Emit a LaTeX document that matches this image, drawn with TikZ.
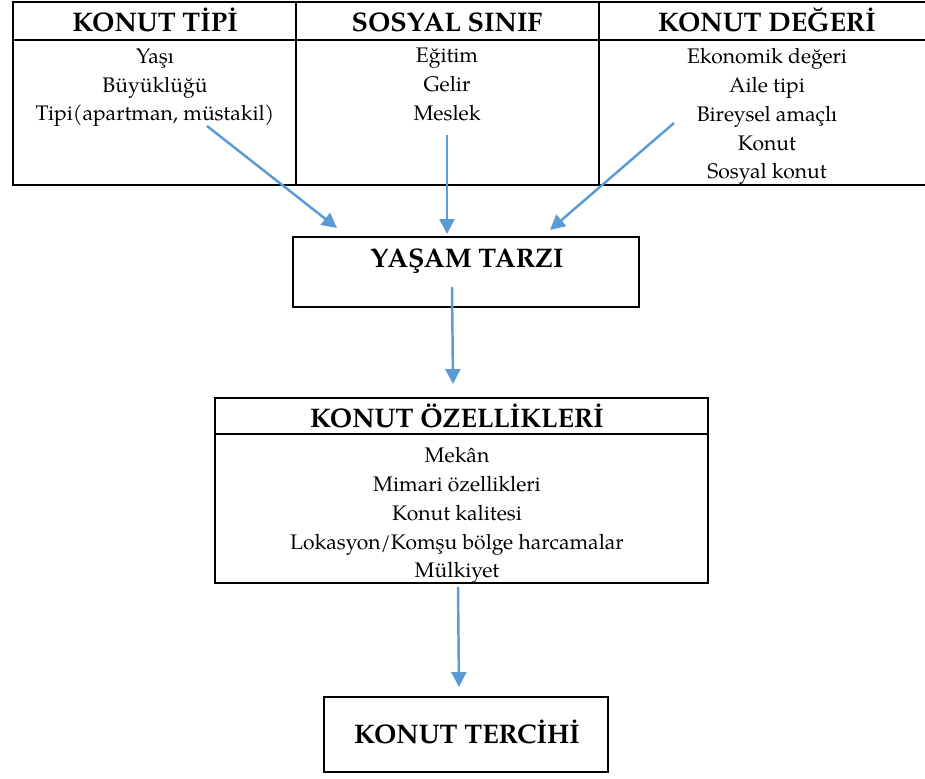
\documentclass[tikz,border=0pt]{standalone}
\usepackage{fontspec}
\setmainfont{texgyrepagella}[Extension=.otf, UprightFont=*-regular, BoldFont=*-bold, ItalicFont=*-italic, BoldItalicFont=*-bolditalic]
\usepackage{tikz}
\usetikzlibrary{arrows.meta}
\definecolor{flowblue}{RGB}{91,155,213}

\begin{document}
\begin{tikzpicture}[x=0.02cm, y=-0.02cm,
    frame/.style={draw, line width=1.4pt},
    head/.style={font=\fontsize{15.3}{17}\selectfont\bfseries, inner sep=0pt, anchor=base},
    item/.style={font=\fontsize{12}{16.4}\selectfont, align=center, inner sep=0pt, anchor=north},
    flow/.style={draw=flowblue, line width=1.4pt, -{Triangle[length=8.5pt, width=8.5pt]}}]
    \useasboundingbox (0, 0) rectangle (925, 778);

    % top table
    \draw[frame] (13, 2) rectangle (935, 185);
    \draw[frame] (13, 40) -- (935, 40);
    \draw[frame] (296, 2) -- (296, 185);
    \draw[frame] (599, 2) -- (599, 185);

    \node (tipi) [head] at (155, 31) {KONUT TİPİ};
    \node (sinif) [head] at (447, 31) {SOSYAL SINIF};
    \node (deger) [head] at (767, 31) {KONUT DEĞERİ};

    \node (tipilist) [item] at (155, 48) {Yaşı\\Büyüklüğü\\Tipi(apartman, müstakil)};
    \node (siniflist) [item] at (447, 48) {Eğitim\\Gelir\\Meslek};
    \node (degerlist) [item] at (767, 48) {Ekonomik değeri\\Aile tipi\\Bireysel amaçlı\\Konut\\Sosyal konut};

    % boxes
    \node (yasam) [frame, minimum width=6.92cm, minimum height=1.4cm] at (466, 272) {};
    \node (yasamtext) [head] at (467, 267) {YAŞAM TARZI};

    \draw[frame] (215, 398) rectangle (708, 583);
    \draw[frame] (215, 434) -- (708, 434);
    \node (ozellik) [head] at (457, 427) {KONUT ÖZELLİKLERİ};
    \node (ozelliklist) [item] at (457, 447) {Mekân\\Mimari özellikleri\\Konut kalitesi\\Lokasyon/Komşu bölge harcamalar\\Mülkiyet};

    \node (tercih) [frame, minimum width=5.68cm, minimum height=1.5cm] at (466, 734.5) {};
    \node (tercihtext) [head] at (467, 743) {KONUT TERCİHİ};

    % arrows
    \coordinate (a1) at (207, 126);
    \coordinate (b1) at (337, 228);
    \coordinate (a2) at (447, 135);
    \coordinate (b2) at (447, 234);
    \coordinate (a3) at (674, 123);
    \coordinate (b3) at (550, 230);
    \coordinate (a4) at (452, 287);
    \coordinate (b4) at (453, 384);
    \coordinate (a5) at (458, 587);
    \coordinate (b5) at (459, 687);

    \draw[flow] (a1) -- (b1);
    \draw[flow] (a2) -- (b2);
    \draw[flow] (a3) -- (b3);
    \draw[flow] (a4) -- (b4);
    \draw[flow] (a5) -- (b5);
\end{tikzpicture}
\end{document}
